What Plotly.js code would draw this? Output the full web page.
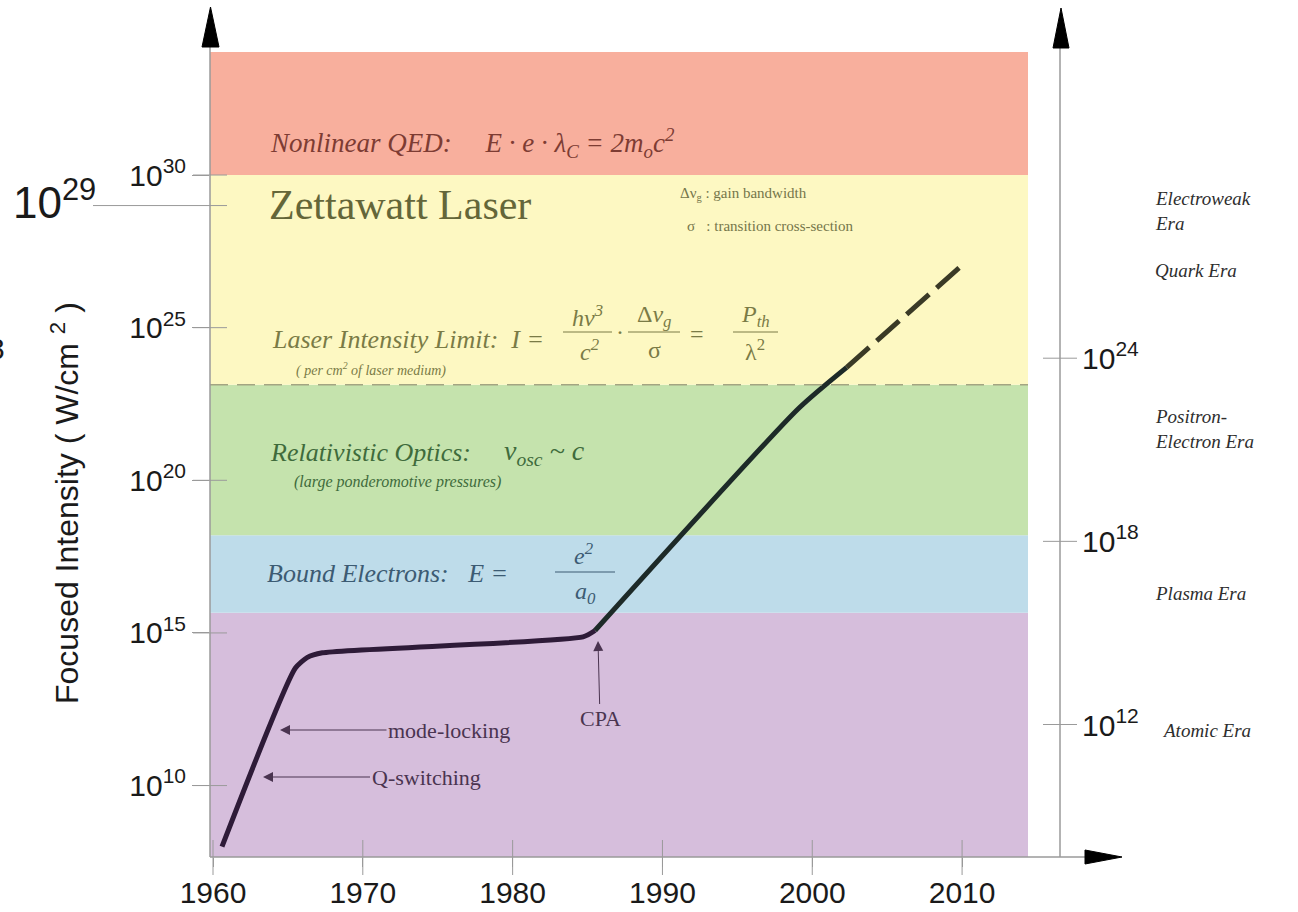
<!DOCTYPE html>
<html>
<head>
<meta charset="utf-8">
<script src="https://cdn.plot.ly/plotly-3.0.1.min.js"></script>
<style>html,body{margin:0;padding:0;background:#fff;}#chart{width:1298px;height:912px;}</style>
</head>
<body>
<div id="chart"></div>
<script>
// ---------- data (intensity as log10 of W/cm^2) ----------
const years = [1960.6, 1965.5, 1966.3, 1967.3, 1984.7, 1985.5, 1999.1, 2002.3];
const logIntensity = [8.0, 13.85, 14.2, 14.35, 14.87, 15.08, 22.36, 23.7];
const projYears = [2002.3, 2009.9];
const projLogIntensity = [23.7, 27.0];
const xTicks = [1960, 1970, 1980, 1990, 2000, 2010];
const yTicks = [10, 15, 20, 25, 30];
const rightTicks = [12, 18, 24];
const bandNames = ['Atomic', 'Bound Electrons', 'Relativistic Optics', 'Zettawatt Laser', 'Nonlinear QED'];
const bandEdges = [15.66, 18.2, 23.13, 30];
const bandColors = ['#d6bedc', '#bedcea', '#c5e3ad', '#fdf8c2', '#f8af9d'];
const eraLabels = ['Electroweak<br>Era', 'Quark Era', 'Positron-<br>Electron Era', 'Plasma Era', 'Atomic Era'];
const eraY = [211, 270, 429, 593, 730];

// ---------- geometry helpers (pixel -> paper) ----------
const L = 210, R = 1028, T = 52, B = 857;
const X_RANGE = [1959.8, 2014.4];
const Y_RANGE = [7.66, 34.03];
const px = x => (x - L) / (R - L);
const py = y => (B - y) / (B - T);

const sans = 'Liberation Sans, Arial, sans-serif';
const serif = 'Liberation Serif, Times New Roman, serif';
const sup = n => '10<sup>' + n + '</sup>';
const nb = n => '\u00a0'.repeat(n);

// ---------- traces ----------
const cpaIdx = 5;
const traces = [
  {x: years.slice(0, cpaIdx + 1), y: logIntensity.slice(0, cpaIdx + 1), mode: 'lines',
   line: {color: '#2e1b38', width: 5, shape: 'spline', smoothing: 0.6}, hoverinfo: 'skip'},
  {x: years.slice(cpaIdx), y: logIntensity.slice(cpaIdx), mode: 'lines',
   line: {color: '#1d2a28', width: 5, shape: 'spline', smoothing: 0.6}, hoverinfo: 'skip'},
  {x: projYears, y: projLogIntensity, mode: 'lines',
   line: {color: '#3a3a26', width: 5, dash: '30px,10px'}, hoverinfo: 'skip'}
];

// ---------- shapes ----------
const shapes = [];
const edgesFull = [Y_RANGE[0]].concat(bandEdges, [Y_RANGE[1]]);
for (let i = 0; i < bandColors.length; i++) {
  shapes.push({type: 'rect', xref: 'paper', yref: 'y', x0: 0, x1: 1, y0: edgesFull[i], y1: edgesFull[i + 1],
    fillcolor: bandColors[i], line: {width: 0}, layer: 'below'});
}
// dashed laser-limit boundary
shapes.push({type: 'line', xref: 'paper', yref: 'y', x0: 0, x1: 1, y0: bandEdges[2], y1: bandEdges[2],
  line: {color: '#a3a582', width: 1.5, dash: '18px,9px'}, layer: 'above'});
const axisGrey = '#9a9a9a';
// left axis + arrow
shapes.push({type: 'line', xref: 'paper', yref: 'paper', x0: px(210), x1: px(210), y0: 0, y1: py(45),
  line: {color: axisGrey, width: 1.5}});
shapes.push({type: 'path', xref: 'paper', yref: 'paper',
  path: `M ${px(210.5)} ${py(7)} L ${px(202)} ${py(47)} L ${px(219)} ${py(47)} Z`,
  fillcolor: '#000', line: {color: '#000', width: 1}});
// right axis + arrow
shapes.push({type: 'line', xref: 'paper', yref: 'paper', x0: px(1060), x1: px(1060), y0: 0, y1: py(46),
  line: {color: axisGrey, width: 1.5}});
shapes.push({type: 'path', xref: 'paper', yref: 'paper',
  path: `M ${px(1061)} ${py(8)} L ${px(1053)} ${py(48)} L ${px(1069)} ${py(48)} Z`,
  fillcolor: '#000', line: {color: '#000', width: 1}});
// bottom axis + arrow
shapes.push({type: 'line', xref: 'paper', yref: 'paper', x0: 0, x1: px(1088), y0: 0, y1: 0,
  line: {color: axisGrey, width: 1.5}});
shapes.push({type: 'path', xref: 'paper', yref: 'paper',
  path: `M ${px(1122)} ${py(857)} L ${px(1085)} ${py(850)} L ${px(1085)} ${py(864)} Z`,
  fillcolor: '#000', line: {color: '#000', width: 1}});
// crossing tick marks
xTicks.forEach(v => shapes.push({type: 'line', xref: 'x', yref: 'paper', x0: v, x1: v, y0: py(840), y1: py(875),
  line: {color: axisGrey, width: 1}}));
yTicks.forEach(v => shapes.push({type: 'line', xref: 'paper', yref: 'y', x0: px(193), x1: px(227), y0: v, y1: v,
  line: {color: axisGrey, width: 1}}));
rightTicks.forEach(v => shapes.push({type: 'line', xref: 'paper', yref: 'y', x0: px(1043), x1: px(1077), y0: v, y1: v,
  line: {color: axisGrey, width: 1}}));
// stray 10^29 marker line
shapes.push({type: 'line', xref: 'paper', yref: 'y', x0: px(93), x1: px(227), y0: 29, y1: 29,
  line: {color: axisGrey, width: 1}});
// fraction bars
const bar = (x0, x1, y, c) => shapes.push({type: 'line', xref: 'paper', yref: 'paper', x0: px(x0), x1: px(x1),
  y0: py(y), y1: py(y), line: {color: c, width: 1}});
const olive = '#7a7b46';
bar(563, 612, 332, olive);
bar(628, 680, 332, olive);
bar(733, 778, 332, olive);
bar(555, 615, 572, '#3c5b73');

// ---------- annotations ----------
const ann = [];
const txt = (text, x, y, size, color, family, extra) => ann.push(Object.assign({
  text: text, xref: 'paper', yref: 'paper', x: px(x), y: py(y), xanchor: 'left', yanchor: 'middle',
  showarrow: false, font: {family: family, size: size, color: color}}, extra || {}));

// band texts
txt('<i>Nonlinear QED:' + nb(5) + 'E \u00b7 e \u00b7 \u03bb<sub>C</sub>' + nb(1) + '=' + nb(1) + '2m<sub>o</sub>c<sup>2</sup></i>', 268, 143, 27, '#7d3c33', serif);
txt('Zettawatt Laser', 267, 205, 42, '#646639', serif);
txt('\u0394\u03bd<sub>g</sub> : gain bandwidth', 678, 194, 15, '#75764a', serif);
txt('\u03c3' + nb(3) + ': transition cross-section', 685, 226, 15, '#75764a', serif);
txt('<i>Laser Intensity Limit:\u00a0\u00a0I =</i>', 270, 339, 26, olive, serif);
txt('<i>h\u03bd<sup>3</sup></i>', 587, 316, 24, olive, serif, {xanchor: 'center'});
txt('<i>c<sup>2</sup></i>', 590, 350, 24, olive, serif, {xanchor: 'center'});
txt('\u00b7', 620, 332, 24, olive, serif, {xanchor: 'center'});
txt('\u0394<i>\u03bd<sub>g</sub></i>', 654, 316, 24, olive, serif, {xanchor: 'center'});
txt('\u03c3', 654, 350, 24, olive, serif, {xanchor: 'center'});
txt('=', 697, 334, 24, olive, serif, {xanchor: 'center'});
txt('<i>P<sub>th</sub></i>', 755, 316, 24, olive, serif, {xanchor: 'center'});
txt('\u03bb<sup>2</sup>', 755, 350, 24, olive, serif, {xanchor: 'center'});
txt('<i>( per cm<sup>2</sup> of laser medium)</i>', 294, 369, 14, olive, serif);
txt('<i>Relativistic Optics:</i>', 268, 453, 26, '#3f6b3c', serif);
txt('<i>\u03bd<sub>osc</sub> ~ c</i>', 502, 453, 28, '#3f6b3c', serif);
txt('<i>(large ponderomotive pressures)</i>', 292, 482, 16, '#3f6b3c', serif);
txt('<i>Bound Electrons:\u00a0\u00a0\u00a0E =</i>', 265, 573, 26, '#3c5b73', serif);
txt('<i>e<sup>2</sup></i>', 584, 554, 24, '#3c5b73', serif, {xanchor: 'center'});
txt('<i>a<sub>0</sub></i>', 585, 593, 24, '#3c5b73', serif, {xanchor: 'center'});

// arrows with labels
const arrowC = '#4a3450';
const arr = (text, tipX, tipY, tx, ty) => ann.push({text: text, xref: 'paper', yref: 'paper',
  x: px(tipX), y: py(tipY), ax: tx - tipX, ay: ty - tipY, showarrow: true, arrowhead: 2, arrowsize: 2,
  arrowwidth: 1, arrowcolor: arrowC, standoff: 0, startstandoff: 0,
  font: {family: serif, size: 22, color: arrowC}});
arr('mode-locking', 280, 730, 449, 730);
arr('Q-switching', 263, 777, 426, 777);
arr('CPA', 598, 641, 600, 718);

// right axis labels + eras
rightTicks.forEach(v => {
  const ypix = B - (v - Y_RANGE[0]) / (Y_RANGE[1] - Y_RANGE[0]) * (B - T);
  txt(sup(v), 1080, ypix - 2, 30, '#1a1a1a', sans);
});
eraLabels.forEach((t, i) => txt('<i>' + t + '</i>', i === 4 ? 1160 : 1153, eraY[i], 19, '#2e2e2e', serif, {align: 'left'}));

// stray 10^29 label, cut-off glyph, y title
txt(sup(29), 98, 200, 44, '#1a1a1a', sans, {xanchor: 'right'});
txt('3', 7, 349, 30, '#1a1a1a', sans, {xanchor: 'right'});
txt('Focused Intensity ( W/cm <sup>2</sup> )', 65, 503, 32, '#1a1a1a', sans, {xanchor: 'center', textangle: -90});

const layout = {
  width: 1298, height: 912,
  margin: {l: L, r: 1298 - R, t: T, b: 912 - B},
  paper_bgcolor: '#fff', plot_bgcolor: '#fff',
  showlegend: false,
  xaxis: {range: X_RANGE, showgrid: false, zeroline: false, showline: false,
    tickvals: xTicks, ticktext: xTicks.map(String), ticks: 'outside', ticklen: 9, tickcolor: axisGrey,
    tickfont: {family: sans, size: 30, color: '#1a1a1a'}},
  yaxis: {range: Y_RANGE, showgrid: false, zeroline: false, showline: false,
    tickvals: yTicks, ticktext: yTicks.map(sup), ticks: 'outside', ticklen: 17, tickcolor: axisGrey,
    tickfont: {family: sans, size: 30, color: '#1a1a1a'}},
  shapes: shapes,
  annotations: ann
};

Plotly.newPlot('chart', traces, layout, {staticPlot: true, displayModeBar: false});
</script>
</body>
</html>
